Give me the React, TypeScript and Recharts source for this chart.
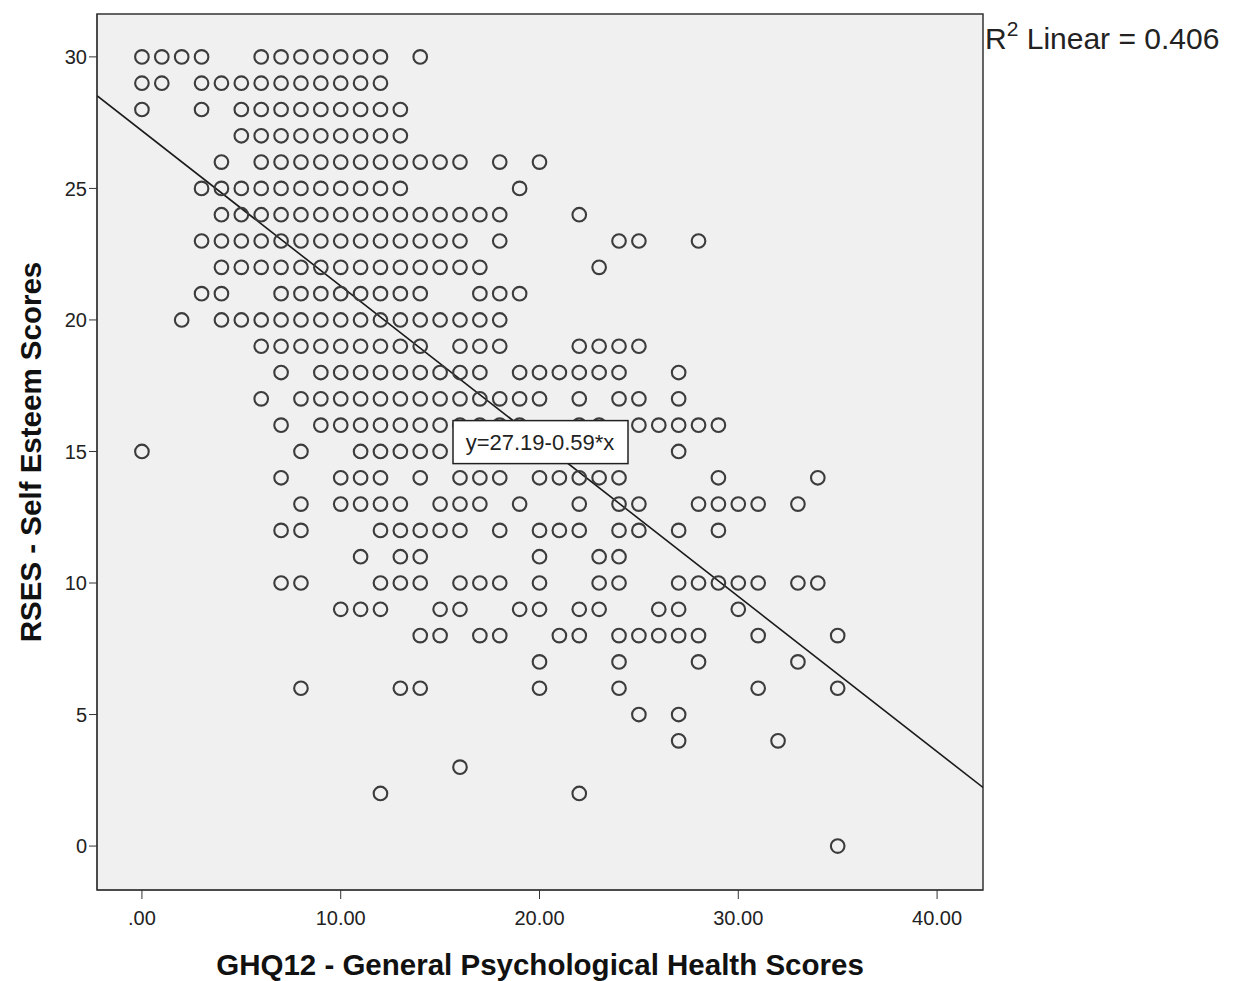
import React from 'react';
import { ScatterChart, Scatter, XAxis, YAxis, CartesianGrid, ReferenceLine, ReferenceArea, ReferenceDot, Label } from 'recharts';

// GHQ12 scores observed at each RSES score (one array per RSES value)
const rses30 = [0, 1, 2, 3, 6, 7, 8, 9, 10, 11, 12, 14];
const rses29 = [0, 1, 3, 4, 5, 6, 7, 8, 9, 10, 11, 12];
const rses28 = [0, 3, 5, 6, 7, 8, 9, 10, 11, 12, 13];
const rses27 = [5, 6, 7, 8, 9, 10, 11, 12, 13];
const rses26 = [4, 6, 7, 8, 9, 10, 11, 12, 13, 14, 15, 16, 18, 20];
const rses25 = [3, 4, 5, 6, 7, 8, 9, 10, 11, 12, 13, 19];
const rses24 = [4, 5, 6, 7, 8, 9, 10, 11, 12, 13, 14, 15, 16, 17, 18, 22];
const rses23 = [3, 4, 5, 6, 7, 8, 9, 10, 11, 12, 13, 14, 15, 16, 18, 24, 25, 28];
const rses22 = [4, 5, 6, 7, 8, 9, 10, 11, 12, 13, 14, 15, 16, 17, 23];
const rses21 = [3, 4, 7, 8, 9, 10, 11, 12, 13, 14, 17, 18, 19];
const rses20 = [2, 4, 5, 6, 7, 8, 9, 10, 11, 12, 13, 14, 15, 16, 17, 18];
const rses19 = [6, 7, 8, 9, 10, 11, 12, 13, 14, 16, 17, 18, 22, 23, 24, 25];
const rses18 = [7, 9, 10, 11, 12, 13, 14, 15, 16, 17, 19, 20, 21, 22, 23, 24, 27];
const rses17 = [6, 8, 9, 10, 11, 12, 13, 14, 15, 16, 17, 18, 19, 20, 22, 24, 25, 27];
const rses16 = [7, 9, 10, 11, 12, 13, 14, 15, 16, 17, 18, 19, 22, 23, 25, 26, 27, 28, 29];
const rses15 = [0, 8, 11, 12, 13, 14, 15, 27];
const rses14 = [7, 10, 11, 12, 14, 16, 17, 18, 20, 21, 22, 23, 24, 29, 34];
const rses13 = [8, 10, 11, 12, 13, 15, 16, 17, 19, 22, 24, 25, 28, 29, 30, 31, 33];
const rses12 = [7, 8, 12, 13, 14, 15, 16, 18, 20, 21, 22, 24, 25, 27, 29];
const rses11 = [11, 13, 14, 20, 23, 24];
const rses10 = [7, 8, 12, 13, 14, 16, 17, 18, 20, 23, 24, 27, 28, 29, 30, 31, 33, 34];
const rses9 = [10, 11, 12, 15, 16, 19, 20, 22, 23, 26, 27, 30];
const rses8 = [14, 15, 17, 18, 21, 22, 24, 25, 26, 27, 28, 31, 35];
const rses7 = [20, 24, 28, 33];
const rses6 = [8, 13, 14, 20, 24, 31, 35];
const rses5 = [25, 27];
const rses4 = [27, 32];
const rses3 = [16];
const rses2 = [12, 22];
const rses0 = [35];

const xTicks = [0, 10, 20, 30, 40];
const yTicks = [0, 5, 10, 15, 20, 25, 30];

// fitted line (SPSS output)
const INTERCEPT = 27.19;
const SLOPE = -0.59;
const R_SQUARED = '0.406';

const X_MIN = -2.26;
const X_MAX = 42.31;
const Y_MIN = -1.67;
const Y_MAX = 31.63;

const rows: [number, number[]][] = [
  [30, rses30], [29, rses29], [28, rses28], [27, rses27], [26, rses26], [25, rses25],
  [24, rses24], [23, rses23], [22, rses22], [21, rses21], [20, rses20], [19, rses19],
  [18, rses18], [17, rses17], [16, rses16], [15, rses15], [14, rses14], [13, rses13],
  [12, rses12], [11, rses11], [10, rses10], [9, rses9], [8, rses8], [7, rses7],
  [6, rses6], [5, rses5], [4, rses4], [3, rses3], [2, rses2], [0, rses0],
];

const points = rows.flatMap(([rses, ghqs]) => ghqs.map((ghq) => ({ ghq, rses })));

const FONT = '"Liberation Sans", Arial, sans-serif';

const fit = (x: number) => INTERCEPT + SLOPE * x;
const midX = (X_MIN + X_MAX) / 2;

const OpenCircle = (props: any) => (
  <circle cx={props.cx} cy={props.cy} r={6.8} fill="none" stroke="#3c3c3c" strokeWidth={2.1} />
);

const EquationBox = (props: any) => (
  <g>
    <rect x={props.cx - 87} y={props.cy - 21} width={175} height={43} fill="#fff" stroke="#222" strokeWidth={1.5} />
    <text x={props.cx} y={props.cy + 8} textAnchor="middle" fontSize={22} fill="#222" fontFamily={FONT}>
      {`y=${INTERCEPT}${SLOPE}*x`}
    </text>
  </g>
);

const fmtX = (v: number) => (v === 0 ? '.00' : v.toFixed(2));

const App = () => {
  return (
    <div style={{ position: 'relative', width: 1234, height: 973, fontFamily: FONT }}>
      <ScatterChart width={1234} height={973} margin={{ top: 6, right: 259, bottom: 0, left: 0 }}>
        <CartesianGrid fill="#f0f0f0" horizontal={false} vertical={false} />
        <XAxis
          type="number"
          dataKey="ghq"
          domain={[X_MIN, X_MAX]}
          allowDataOverflow
          ticks={xTicks}
          tickFormatter={fmtX}
          height={91}
          tickSize={9}
          tickMargin={12}
          axisLine={{ stroke: '#333' }}
          tickLine={{ stroke: '#333' }}
          tick={{ fontSize: 20, fill: '#222', fontFamily: FONT }}
        >
          <Label
            content={(p: any) => (
              <text
                x={p.viewBox.x + p.viewBox.width / 2}
                y={p.viewBox.y + 85}
                textAnchor="middle"
                fontSize={29.5}
                fontWeight="bold"
                fill="#111"
                fontFamily={FONT}
              >
                GHQ12 - General Psychological Health Scores
              </text>
            )}
          />
        </XAxis>
        <YAxis
          type="number"
          dataKey="rses"
          domain={[Y_MIN, Y_MAX]}
          allowDataOverflow
          ticks={yTicks}
          width={89}
          tickSize={8}
          tickMargin={2}
          axisLine={{ stroke: '#333' }}
          tickLine={{ stroke: '#333' }}
          tick={{ fontSize: 20, fill: '#222', fontFamily: FONT }}
        >
          <Label
            content={(p: any) => {
              const cx = 22;
              const cy = p.viewBox.y + p.viewBox.height / 2;
              return (
                <text
                  x={cx}
                  y={cy}
                  transform={`rotate(-90, ${cx}, ${cy})`}
                  textAnchor="middle"
                  dominantBaseline="central"
                  fontSize={29.5}
                  fontWeight="bold"
                  fill="#111"
                  fontFamily={FONT}
                >
                  RSES - Self Esteem Scores
                </text>
              );
            }}
          />
        </YAxis>
        <Scatter data={points} shape={OpenCircle} isAnimationActive={false} />
        <ReferenceArea x1={X_MIN} x2={X_MAX} y1={Y_MIN} y2={Y_MAX} fill="none" stroke="#333" strokeWidth={1.5} />
        <ReferenceLine
          segment={[{ x: X_MIN, y: fit(X_MIN) }, { x: X_MAX, y: fit(X_MAX) }]}
          stroke="#1a1a1a"
          strokeWidth={1.6}
          ifOverflow="hidden"
        />
        <ReferenceDot x={midX} y={fit(midX)} r={0} shape={EquationBox} ifOverflow="visible" />
      </ScatterChart>
      <svg width={1234} height={973} style={{ position: 'absolute', left: 0, top: 0, pointerEvents: 'none' }}>
        <text x={977} y={41} fontSize={30} fill="#222" fontFamily={FONT}>
          R
          <tspan dy={-13} fontSize={21}>2</tspan>
          <tspan dy={13} fontSize={30}>{` Linear = ${R_SQUARED}`}</tspan>
        </text>
      </svg>
    </div>
  );
};

export default App;
